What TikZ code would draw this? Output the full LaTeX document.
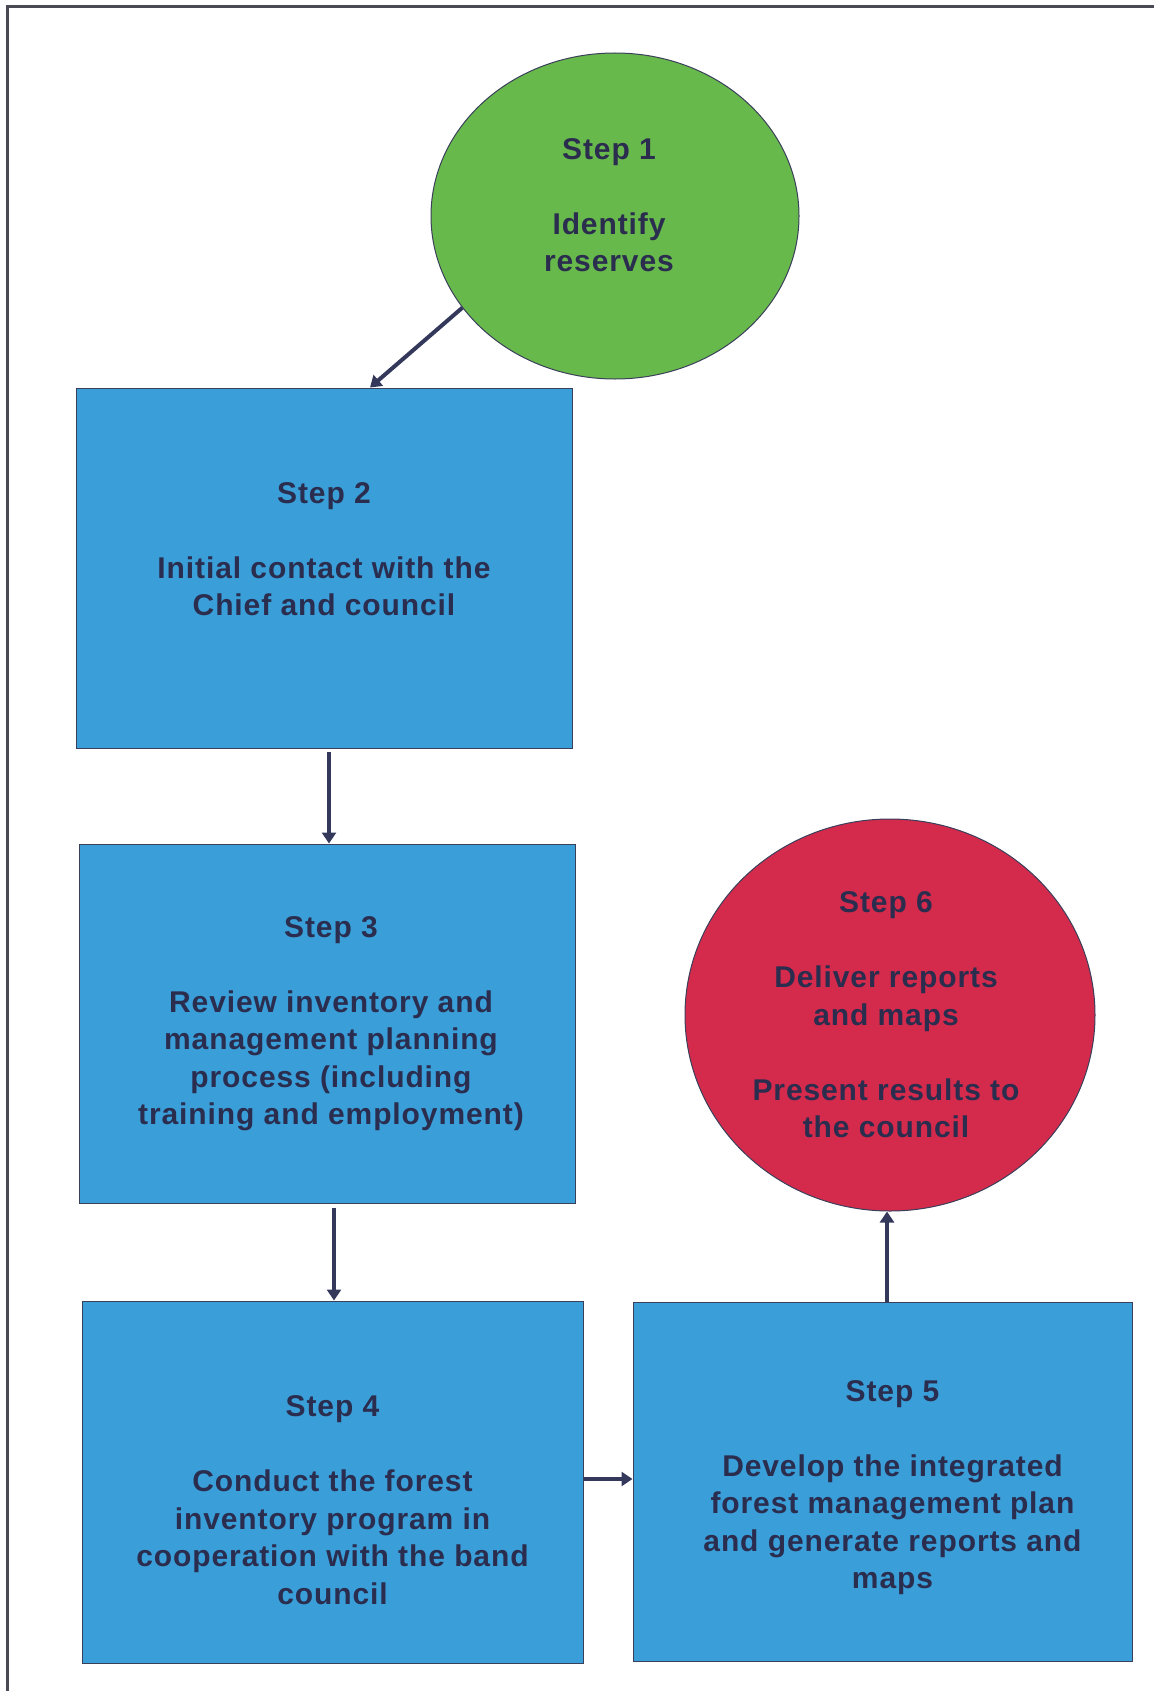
\documentclass[tikz,border=0pt]{standalone}
\usepackage{fontspec}
\setmainfont{Liberation Sans}[LetterSpace=3.0]
\usetikzlibrary{arrows.meta,shapes.geometric,calc}
\definecolor{gfill}{HTML}{68B94C}
\definecolor{bfill}{HTML}{3A9FD9}
\definecolor{rfill}{HTML}{D42A4C}
\definecolor{edgec}{HTML}{3A3F5A}
\definecolor{txtc}{HTML}{2B2D4F}
\definecolor{arrc}{HTML}{34385A}
\definecolor{framec}{HTML}{4A4A55}
\begin{document}
\begin{tikzpicture}[x=1pt,y=-1pt,
  stepbox/.style={rectangle, draw=edgec, line width=1pt, fill=bfill, inner sep=0pt},
  greenov/.style={ellipse, draw=edgec, line width=1pt, fill=gfill, inner sep=0pt},
  redov/.style={ellipse, draw=edgec, line width=1pt, fill=rfill, inner sep=0pt},
  txt/.style={align=center, text=txtc, inner sep=0pt, font=\bfseries\fontsize{30}{37.5}\selectfont},
  arr/.style={draw=arrc, line width=4pt, -{Triangle[width=14pt,length=11pt]}},
  framel/.style={draw=framec, line width=3pt}
]
\useasboundingbox (0,0) rectangle (1154,1691);
\draw[framel] (7,1691) -- (7,7) -- (1154,7);

% shapes
\node[greenov, minimum width=368pt, minimum height=326pt] (s1) at (615,216) {};
\node[stepbox, minimum width=496pt, minimum height=360pt] (s2) at (324,568) {};
\node[stepbox, minimum width=496pt, minimum height=359pt] (s3) at (327,1023.5) {};
\node[stepbox, minimum width=501pt, minimum height=362pt] (s4) at (332.5,1482) {};
\node[stepbox, minimum width=499pt, minimum height=359pt] (s5) at (882.5,1481.5) {};
\node[redov, minimum width=410pt, minimum height=392pt] (s6) at (890,1015) {};

% texts
\node[txt] (t1) at ([xshift=-6pt,yshift=11pt]s1.center) {Step 1\\[37.5pt]Identify\\reserves};
\node[txt] (t2) at ([yshift=19pt]s2.center) {Step 2\\[37.5pt]Initial contact with the\\Chief and council};
\node[txt] (t3) at ([xshift=4pt]s3.center) {Step 3\\[37.5pt]Review inventory and\\management planning\\process (including\\training and employment)};
\node[txt] (t4) at ([yshift=-18pt]s4.center) {Step 4\\[37.5pt]Conduct the forest\\inventory program in\\cooperation with the band\\council};
\node[txt] (t5) at ([xshift=10pt,yshift=-6pt]s5.center) {Step 5\\[37.5pt]Develop the integrated\\forest management plan\\and generate reports and\\maps};
\node[txt] (t6) at ([xshift=-4pt]s6.center) {Step 6\\[37.5pt]Deliver reports\\and maps\\[37.5pt]Present results to\\the council};

% connectors
\draw[arr] (s1.211) -- ([xshift=46pt]s2.north);
\draw[arr, shorten <=3pt] ([xshift=5pt]s2.south) -- ([xshift=5pt]s2.south |- s3.north);
\draw[arr, shorten <=4pt] ([xshift=7pt]s3.south) -- ([xshift=7pt]s3.south |- s4.north);
\draw[arr] ([yshift=3pt]s4.east) -- ([yshift=3pt]s4.east -| s5.west);
\draw[arr] ([xshift=4.5pt]s5.north) -- ([xshift=4.5pt]s5.north |- s6.south);
\end{tikzpicture}
\end{document}
